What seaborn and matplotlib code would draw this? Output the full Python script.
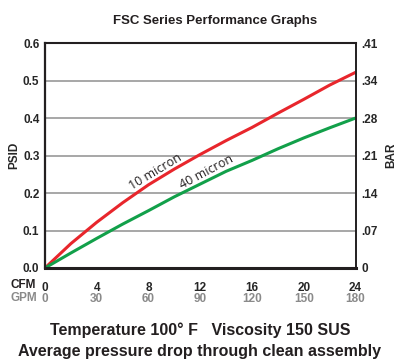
import numpy as np
import pandas as pd
import matplotlib
matplotlib.use("Agg")
import matplotlib.pyplot as plt
import seaborn as sns

# values
cfm = [0, 2, 4, 6, 8, 10, 12, 14, 16, 18, 20, 22, 24]
psid_10 = [0, 0.065, 0.122, 0.174, 0.222, 0.264, 0.303, 0.340, 0.375, 0.413, 0.450, 0.488, 0.522]
psid_40 = [0, 0.040, 0.079, 0.117, 0.153, 0.190, 0.224, 0.258, 0.287, 0.318, 0.347, 0.374, 0.400]

cfm_ticks = [0, 4, 8, 12, 16, 20, 24]
gpm_ticks = [0, 30, 60, 90, 120, 150, 180]
psid_ticks = [0.0, 0.1, 0.2, 0.3, 0.4, 0.5, 0.6]
psid_labels = ["0.0", "0.1", "0.2", "0.3", "0.4", "0.5", "0.6"]
bar_labels = ["0", ".07", ".14", ".21", ".28", ".34", ".41"]

df = pd.DataFrame({
    "cfm": cfm * 2,
    "psid": psid_10 + psid_40,
    "element": ["10 micron"] * len(cfm) + ["40 micron"] * len(cfm),
})

sns.set_style("white")
plt.rcParams["font.family"] = ["Liberation Sans", "DejaVu Sans"]

fig = plt.figure(figsize=(3.96, 3.62), dpi=100)
ax = fig.add_axes([0.1136, 0.2597, 0.7844, 0.6213])

sns.lineplot(data=df, x="cfm", y="psid", hue="element",
             palette={"10 micron": "#e8262c", "40 micron": "#12a04a"},
             linewidth=2.2, legend=False, ax=ax)

ax.set_xlim(0, 24)
ax.set_ylim(0, 0.6)
ax.set_yticks(psid_ticks)
ax.set_yticklabels(psid_labels, fontsize=8.5, fontweight="bold")
ax.set_xticks(cfm_ticks)
ax.set_xticklabels([str(v) for v in cfm_ticks], fontsize=8.5, fontweight="bold")
ax.tick_params(axis="y", length=0, pad=4)
ax.tick_params(axis="x", length=0, pad=10)
for y in psid_ticks[1:-1]:
    ax.axhline(y, color="#a0a0a0", lw=1.3, zorder=0)
ax.set_xlabel("")
ax.set_ylabel("PSID", fontsize=8.5, fontweight="bold")
ax.yaxis.set_label_coords(-0.08, 0.5)

for side, lw in [("left", 1.6), ("bottom", 2.2), ("top", 1.5), ("right", 1.4)]:
    ax.spines[side].set_visible(True)
    ax.spines[side].set_linewidth(lw)
    ax.spines[side].set_color("#231f20")

# right-hand BAR scale
ax2 = ax.twinx()
ax2.set_ylim(0, 0.6)
ax2.set_yticks(psid_ticks)
ax2.set_yticklabels(bar_labels, fontsize=8.5, fontweight="bold")
ax2.tick_params(axis="y", length=0, pad=4)
ax2.set_ylabel("BAR", fontsize=8.5, fontweight="bold")
ax2.yaxis.set_label_coords(1.095, 0.5)
for s in ax2.spines.values():
    s.set_visible(False)

# GPM scale below CFM
sec = ax.secondary_xaxis("bottom", functions=(lambda x: x * 7.5, lambda g: g / 7.5))
sec.set_xticks(gpm_ticks)
sec.set_xticklabels([str(v) for v in gpm_ticks], fontsize=8.5, fontweight="bold", color="#8a8a8a")
sec.tick_params(length=0, pad=18)
sec.spines["bottom"].set_visible(False)

fig.text(0.027, 0.2127, "CFM", fontsize=8.5, fontweight="bold", color="#231f20", va="center")
fig.text(0.027, 0.177, "GPM", fontsize=8.5, fontweight="bold", color="#8a8a8a", va="center")

ax.text(8.5, 0.256, "10 micron", rotation=31, ha="center", va="center",
        fontsize=9, family=["Open Sans", "DejaVu Sans"], color="#231f20")
ax.text(12.5, 0.256, "40 micron", rotation=28, ha="center", va="center",
        fontsize=9, family=["Open Sans", "DejaVu Sans"], color="#231f20")

fig.text(0.543, 0.942, "FSC Series Performance Graphs", ha="center", va="center",
         fontsize=9.5, fontweight="bold", color="#231f20")
fig.text(0.505, 0.088, "Temperature 100\u00b0 F   Viscosity 150 SUS", ha="center", va="center",
         fontsize=11.5, fontweight="bold", color="#231f20")
fig.text(0.505, 0.030, "Average pressure drop through clean assembly", ha="center", va="center",
         fontsize=11.5, fontweight="bold", color="#231f20")

fig.savefig("out.png", dpi=100)
